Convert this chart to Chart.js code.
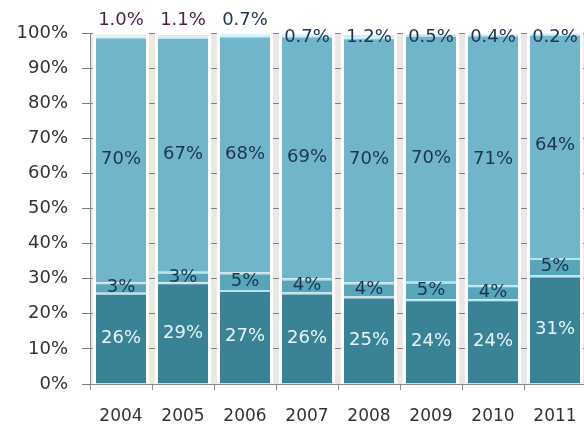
<!DOCTYPE html>
<html>
<head>
<meta charset="utf-8">
<script src="https://cdn.jsdelivr.net/npm/chart.js@4.4.1/dist/chart.umd.min.js"></script>
<style>
  html, body { margin: 0; padding: 0; background: #fff; overflow: hidden; }
  #wrap { width: 584px; height: 430px; overflow: hidden; }
</style>
</head>
<body>
<div id="wrap"><canvas id="myChart" width="600" height="430"></canvas></div>
<script>
const years = ['2004', '2005', '2006', '2007', '2008', '2009', '2010', '2011'];
const baseShare = [26, 29, 27, 26, 25, 24, 24, 31];
const smallShare = [3, 3, 5, 4, 4, 5, 4, 5];
const mainShare = [70, 67, 68, 69, 70, 70, 71, 64];
const topShare = [1.0, 1.1, 0.7, 0.7, 1.2, 0.5, 0.4, 0.2];
const yTicks = [0, 10, 20, 30, 40, 50, 60, 70, 80, 90, 100];

const FONT = 'DejaVu Sans, Verdana, sans-serif';
const series = [baseShare, smallShare, mainShare, topShare];
const totals = years.map((_, i) => series.reduce((s, arr) => s + arr[i], 0));
const asPercent = arr => arr.map((v, i) => v / totals[i] * 100);

// white strips behind each column
const backdrop = {
  id: 'backdrop',
  beforeDatasetsDraw(chart) {
    const { ctx, chartArea: a } = chart;
    ctx.save();
    const meta = chart.getDatasetMeta(0);
    ctx.fillStyle = '#ffffff';
    meta.data.forEach(bar => {
      ctx.fillRect(bar.x - bar.width / 2 - 3, a.top, bar.width + 6, a.bottom - a.top);
    });
    ctx.restore();
  }
};

// gray band behind the plot
const bandFill = {
  id: 'bandFill',
  beforeDraw(chart) {
    const { ctx, chartArea: a } = chart;
    ctx.save();
    ctx.fillStyle = '#eae7e7';
    ctx.fillRect(a.left, a.top, a.right - a.left, a.bottom - a.top);
    ctx.restore();
  }
};

// value labels on each segment
const segmentLabels = {
  id: 'segmentLabels',
  afterDatasetsDraw(chart) {
    const { ctx } = chart;
    ctx.save();
    ctx.font = '18px ' + FONT;
    ctx.textAlign = 'center';
    ctx.textBaseline = 'middle';
    series.forEach((arr, d) => {
      const meta = chart.getDatasetMeta(d);
      meta.data.forEach((bar, i) => {
        const v = arr[i];
        let y = (bar.y + bar.base) / 2;
        let text = v + '%';
        if (d === 0) ctx.fillStyle = '#e6f6f9';
        else ctx.fillStyle = '#1c3452';
        if (d === 3) {
          text = v.toFixed(1) + '%';
          y = i < 3 ? bar.y - 13 : bar.y + 4;
          ctx.fillStyle = i < 2 ? '#4a2545' : '#1c3452';
        }
        ctx.fillText(text, bar.x, y);
      });
    });
    ctx.restore();
  }
};

const makeSet = (label, arr, color, edge) => ({
  label,
  data: asPercent(arr),
  backgroundColor: color,
  borderColor: edge,
  borderWidth: { top: 2, left: 0, right: 0, bottom: 0 },
  borderSkipped: false,
  barPercentage: 0.81,
  categoryPercentage: 1.0
});

const ctx = document.getElementById('myChart').getContext('2d');
const myChart = new Chart(ctx, {
  type: 'bar',
  data: {
    labels: years,
    datasets: [
      makeSet('base', baseShare, '#3a8396', '#b7e4ee'),
      makeSet('small', smallShare, '#57a6b9', '#b7e4ee'),
      makeSet('main', mainShare, '#71b5cb', '#c4ecf4'),
      makeSet('top', topShare, '#cdeef5', '#ffffff')
    ]
  },
  options: {
    responsive: false,
    animation: false,
    layout: { padding: { top: 33, right: 14, left: 0, bottom: 0 } },
    plugins: {
      legend: { display: false },
      tooltip: { enabled: false }
    },
    scales: {
      x: {
        stacked: true,
        afterFit: s => { s.height = 46; },
        border: { color: '#8a8a8a', width: 1 },
        grid: { drawOnChartArea: false, tickLength: 6, color: '#8a8a8a', offset: true },
        ticks: { color: '#333333', font: { family: FONT, size: 17 }, padding: 16, maxRotation: 0 }
      },
      y: {
        stacked: true,
        min: 0,
        max: 100,
        afterFit: s => { s.width = 90; },
        afterBuildTicks: s => { s.ticks = yTicks.map(v => ({ value: v })); },
        border: { color: '#8a8a8a', width: 1 },
        grid: { color: '#7d7d7d', tickLength: 8 },
        ticks: {
          color: '#333333',
          font: { family: FONT, size: 18 },
          padding: 14,
          callback: v => v + '%'
        }
      }
    }
  },
  plugins: [bandFill, backdrop, segmentLabels]
});
</script>
</body>
</html>
